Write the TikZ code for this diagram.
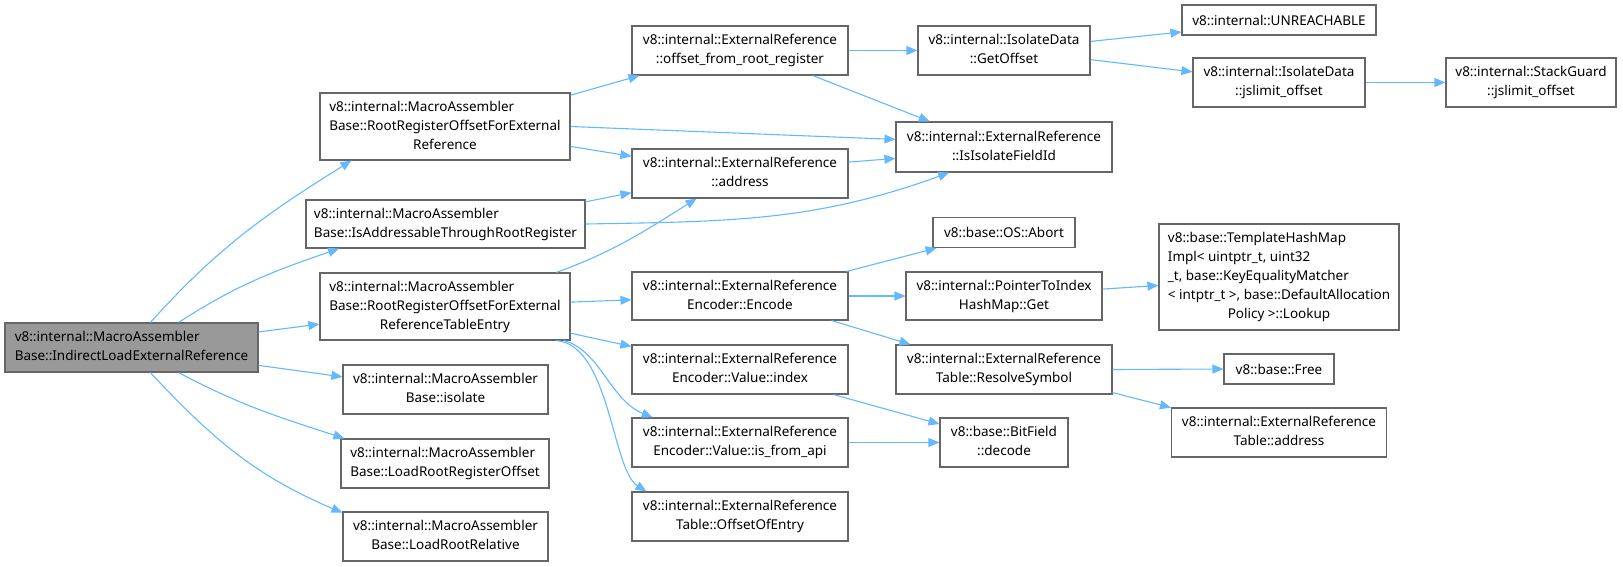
\documentclass[tikz,border=0pt]{standalone}
\usepackage{fontspec}
\setmainfont{Noto Sans}
\usetikzlibrary{arrows.meta}
\definecolor{edgeblue}{HTML}{63B8FF}
\definecolor{boxgray}{HTML}{666666}
\definecolor{mainfill}{HTML}{999999}
\newcommand{\fnl}[1]{\begin{tabular}{@{}l@{}}#1\end{tabular}}
\newcommand{\fnc}[1]{\multicolumn{1}{@{}c@{}}{#1}}

\begin{document}
\begin{tikzpicture}[
      x=1pt, y=-1pt,
      fn/.style={draw=boxgray, line width=1.1pt, fill=white, inner sep=0pt, font=\fontsize{13.5}{19}\selectfont},
      wh/.style 2 args={minimum width=#1pt, minimum height=#2pt},
      arr/.style={-{Triangle[length=11pt,width=9pt]}, draw=edgeblue, line width=1.1pt}
    ]
    \useasboundingbox (0,0) rectangle (1623,566);

    % caller
    \node[fn, wh={253}{49}, fill=mainfill] (main) at (131.5,347.5) {\fnl{v8::internal::MacroAssembler\\\fnc{Base::IndirectLoadExternalReference}}};

    % MacroAssemblerBase column
    \node[fn, wh={250}{67}] (rrofer) at (445,126.5) {\fnl{v8::internal::MacroAssembler\\Base::RootRegisterOffsetForExternal\\\fnc{Reference}}};
    \node[fn, wh={279}{48}] (isaddr) at (445.5,224) {\fnl{v8::internal::MacroAssembler\\\fnc{Base::IsAddressableThroughRootRegister}}};
    \node[fn, wh={250}{67}] (rrofte) at (445,306.5) {\fnl{v8::internal::MacroAssembler\\Base::RootRegisterOffsetForExternal\\\fnc{ReferenceTableEntry}}};
    \node[fn, wh={205}{49}] (isolate) at (445.5,389.5) {\fnl{v8::internal::MacroAssembler\\\fnc{Base::isolate}}};
    \node[fn, wh={208}{49}] (loadrro) at (445,463.5) {\fnl{v8::internal::MacroAssembler\\\fnc{Base::LoadRootRegisterOffset}}};
    \node[fn, wh={205}{49}] (loadrr) at (445.5,536.5) {\fnl{v8::internal::MacroAssembler\\\fnc{Base::LoadRootRelative}}};

    % ExternalReference column
    \node[fn, wh={216}{49}] (offset) at (740,50.5) {\fnl{v8::internal::ExternalReference\\\fnc{::offset\_from\_root\_register}}};
    \node[fn, wh={216}{49}] (address) at (740,173.5) {\fnl{v8::internal::ExternalReference\\\fnc{::address}}};
    \node[fn, wh={216}{48}] (encode) at (740,296) {\fnl{v8::internal::ExternalReference\\\fnc{Encoder::Encode}}};
    \node[fn, wh={216}{49}] (vindex) at (740,369.5) {\fnl{v8::internal::ExternalReference\\\fnc{Encoder::Value::index}}};
    \node[fn, wh={216}{49}] (vapi) at (740,442.5) {\fnl{v8::internal::ExternalReference\\\fnc{Encoder::Value::is\_from\_api}}};
    \node[fn, wh={216}{49}] (offentry) at (740,516.5) {\fnl{v8::internal::ExternalReference\\\fnc{Table::OffsetOfEntry}}};

    % fourth column
    \node[fn, wh={172}{49}] (getoffset) at (1004,50.5) {\fnl{v8::internal::IsolateData\\\fnc{::GetOffset}}};
    \node[fn, wh={216}{50}] (isfield) at (1004,147) {\fnl{v8::internal::ExternalReference\\\fnc{::IsIsolateFieldId}}};
    \node[fn, wh={142}{30}] (abort) at (1004,232.5) {v8::base::OS::Abort};
    \node[fn, wh={196}{48}] (pointer) at (1004,296) {\fnl{v8::internal::PointerToIndex\\\fnc{HashMap::Get}}};
    \node[fn, wh={216}{49}] (resolve) at (1004,369.5) {\fnl{v8::internal::ExternalReference\\\fnc{Table::ResolveSymbol}}};
    \node[fn, wh={128}{49}] (bitfield) at (1004,442.5) {\fnl{v8::base::BitField\\\fnc{::decode}}};

    % fifth and sixth column
    \node[fn, wh={194}{30}] (unreach) at (1279,20) {v8::internal::UNREACHABLE};
    \node[fn, wh={172}{49}] (jslimit) at (1279,82.5) {\fnl{v8::internal::IsolateData\\\fnc{::jslimit\_offset}}};
    \node[fn, wh={240}{106}] (hashmap) at (1279,277) {\fnl{v8::base::TemplateHashMap\\Impl< uintptr\_t, uint32\\\_t, base::KeyEqualityMatcher\\< intptr\_t >, base::DefaultAllocation\\\fnc{Policy >::Lookup}}};
    \node[fn, wh={110}{30}] (free) at (1279,369) {v8::base::Free};
    \node[fn, wh={215}{49}] (tabaddr) at (1279,432.5) {\fnl{v8::internal::ExternalReference\\\fnc{Table::address}}};
    \node[fn, wh={170}{49}] (stackguard) at (1531,82.5) {\fnl{v8::internal::StackGuard\\\fnc{::jslimit\_offset}}};

    % calls from the caller
    \draw[arr] (main.53) to[out=48,in=212] (rrofer.200);
    \draw[arr] (main.28) to[out=33,in=199] (isaddr.193);
    \draw[arr] (main.7) -- (rrofte.188);
    \draw[arr] (main.352) -- (isolate.173);
    \draw[arr] (main.332) to[out=-28,in=162] (loadrro.166);
    \draw[arr] (main.307) to[out=-47,in=157] (loadrr.167);

    % MacroAssemblerBase calls
    \draw[arr] (rrofer.14) -- (offset.194);
    \draw[arr] (rrofer.east) -- (isfield.176);
    \draw[arr] (rrofer.351) -- (address.171);
    \draw[arr] (isaddr.9.5) -- (address.190);
    \draw[arr] (isaddr.east) to[out=1,in=200] (isfield.205);
    \draw[arr] (rrofte.17) to[out=20,in=212] (address.210);
    \draw[arr] (rrofte.2) -- (encode.182);
    \draw[arr] (rrofte.348) -- (vindex.168);
    \draw[arr] (rrofte.344) .. controls (600,350) and (610,400) .. (vapi.164);
    \draw[arr] (rrofte.343) .. controls (610,345) and (612,470) .. (offentry.165);

    % ExternalReference calls
    \draw[arr] (offset.east) -- (getoffset.west);
    \draw[arr] (offset.341) -- (isfield.161);
    \draw[arr] (address.6) -- (isfield.186);
    \draw[arr] (encode.13) -- (abort.193);
    \draw[arr] (encode.east) -- (pointer.west);
    \draw[arr] (encode.345) -- (resolve.165);
    \draw[arr] (vindex.345) -- (bitfield.164);
    \draw[arr] (vapi.east) -- (bitfield.west);

    % further right
    \draw[arr] (getoffset.6) -- (unreach.187);
    \draw[arr] (getoffset.354) -- (jslimit.173);
    \draw[arr] (jslimit.east) -- (stackguard.west);
    \draw[arr] (pointer.4) -- (hashmap.184);
    \draw[arr] (resolve.east) -- (free.west);
    \draw[arr] (resolve.348) -- (tabaddr.167);
  \end{tikzpicture}
\end{document}
